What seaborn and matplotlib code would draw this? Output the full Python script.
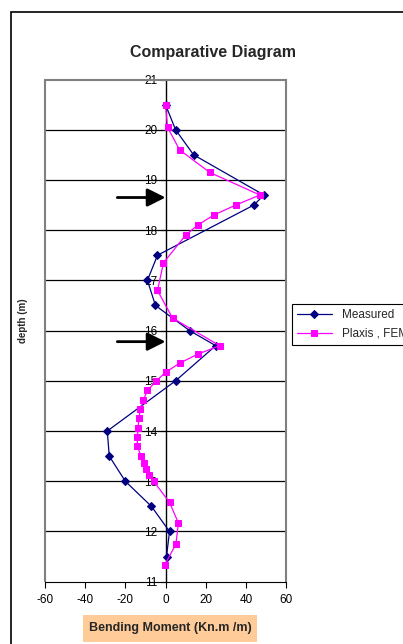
import matplotlib
matplotlib.use('Agg')
import matplotlib.pyplot as plt
import seaborn as sns
import pandas as pd
from matplotlib.patches import Rectangle

# measured bending moment vs depth
measured_depth = [20.5, 20.0, 19.5, 18.7, 18.5, 17.5, 17.0, 16.5, 16.0, 15.7, 15.0,
                  14.0, 13.5, 13.0, 12.5, 12.0, 11.5]
measured_moment = [0, 5, 14, 49, 44, -4, -9, -5, 12, 25, 5,
                   -29, -28, -20, -7, 2, 0.5]

# Plaxis FEM results
fem_depth = [20.5, 20.05, 19.6, 19.15, 18.7, 18.5, 18.3, 18.1, 17.9, 17.35, 16.8,
             16.25, 15.7, 15.53, 15.35, 15.17, 15.0, 14.81, 14.62, 14.43, 14.25,
             14.06, 13.88, 13.7, 13.5, 13.37, 13.25, 13.13, 13.0, 12.58, 12.17,
             11.75, 11.34]
fem_moment = [0, 1, 7, 22, 47, 35, 24, 16, 10, -1, -4,
              3.5, 27, 16, 7, 0, -4.5, -9, -11, -12.5, -13.3,
              -13.7, -14, -14, -12.2, -10.9, -9.7, -8.1, -5.9, 2, 6.4,
              5.2, -0.3]

arrow_depths = [18.65, 15.78]

sns.set_style("white")
plt.rcParams['font.family'] = ['Liberation Sans', 'DejaVu Sans']
plt.rcParams['axes.unicode_minus'] = False

df_m = pd.DataFrame({'moment': measured_moment, 'depth': measured_depth})
df_f = pd.DataFrame({'moment': fem_moment, 'depth': fem_depth})

fig = plt.figure(figsize=(4.03, 6.44), dpi=100)
ax = fig.add_axes([45/403, 1-581.7/644, 241/403, 502.2/644])

# outer chart frame
fig.patches.append(Rectangle((11/403, -0.1), 1.2, 1-12/644+0.1, transform=fig.transFigure,
                             fill=False, edgecolor='black', linewidth=1.2))
# peach box behind x label
fig.patches.append(Rectangle((83/403, 1-642/644), 174/403, 27/644, transform=fig.transFigure,
                             facecolor='#FFCC99', edgecolor='none'))

for d in range(12, 21):
    ax.axhline(d, color='black', linewidth=0.9, zorder=1)

sns.lineplot(data=df_m, x='moment', y='depth', sort=False, estimator=None, orient='y',
             ax=ax, color='#000080', marker='D', markersize=4, markeredgecolor='#000080',
             linewidth=0.9, label='Measured', zorder=3)
sns.lineplot(data=df_f, x='moment', y='depth', sort=False, estimator=None, orient='y',
             ax=ax, color='#FF00FF', marker='s', markersize=4.5, markeredgecolor='#FF00FF',
             linewidth=0.9, label='Plaxis , FEM', zorder=3)

for d in arrow_depths:
    ax.annotate('', xy=(0, d), xytext=(-24, d),
                arrowprops=dict(arrowstyle='-|>,head_length=1.1,head_width=0.55',
                                color='black', linewidth=2, shrinkA=0, shrinkB=0))

ax.set_xlim(-60, 60)
ax.set_ylim(11, 21)
ax.set_xticks(range(-60, 61, 20))
ax.set_yticks(range(11, 22))

ax.spines['left'].set_position(('data', 0))
ax.spines['left'].set_color('black')
ax.spines['left'].set_linewidth(1)
ax.spines['left'].set_zorder(2)
ax.spines['bottom'].set_color('black')
ax.spines['top'].set_color('gray')
ax.spines['right'].set_color('gray')
for s in ['top', 'right']:
    ax.spines[s].set_linewidth(1.5)
ax.add_patch(Rectangle((0, 0), 0.001, 1, transform=ax.transAxes, clip_on=False,
                       fill=False, edgecolor='gray', linewidth=1.5))

ax.tick_params(axis='both', labelsize=8.5, direction='out', length=4, width=0.8,
               colors='black', left=True, bottom=True)
ax.tick_params(axis='x', pad=5)
ax.tick_params(axis='y', pad=2)

ax.set_xlabel('')
ax.set_ylabel('')
fig.text(23/403, 1-321/644, 'depth (m)', rotation=90, ha='center', va='center',
         fontsize=7, fontweight='bold')
fig.text(170/403, 1-628/644, 'Bending Moment (Kn.m /m)', ha='center', va='center',
         fontsize=9, fontweight='bold')
fig.text(213/403, 1-52/644, 'Comparative Diagram', ha='center', va='center',
         fontsize=11.5, fontweight='bold')

ax.legend(loc='upper left', bbox_to_anchor=(292/403, 1-304/644), bbox_transform=fig.transFigure,
          fancybox=False, edgecolor='black', framealpha=1, fontsize=8.5, borderaxespad=0,
          handlelength=3, labelspacing=0.6)
ax.get_legend().get_frame().set_linewidth(0.8)

fig.savefig('out.png', dpi=100)
